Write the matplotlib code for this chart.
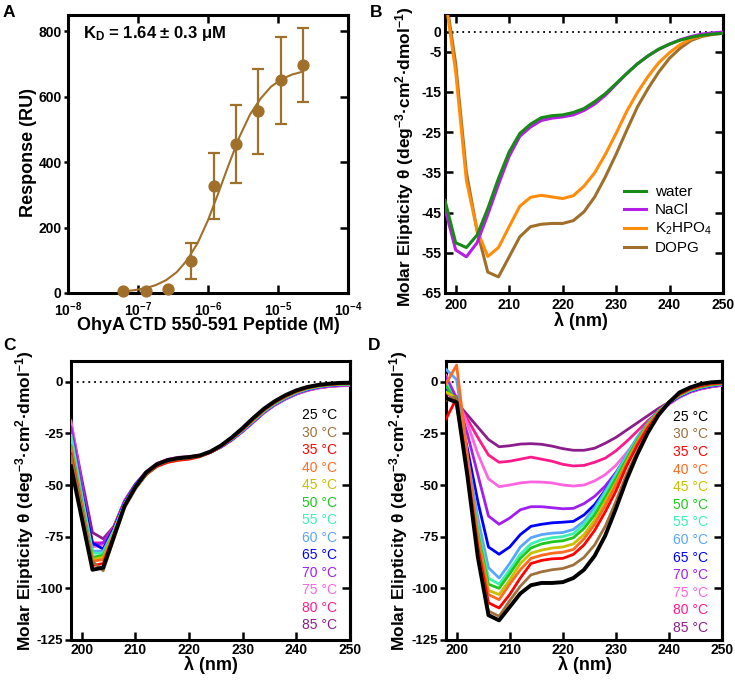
import matplotlib
matplotlib.use('Agg')
import matplotlib.pyplot as plt
import numpy as np
from matplotlib.ticker import NullLocator

plt.rcParams.update({
    'font.family': ['Liberation Sans', 'DejaVu Sans'],
    'font.weight': 'bold',
    'axes.labelweight': 'bold',
    'mathtext.default': 'regular',
    'axes.unicode_minus': False,
    'axes.linewidth': 2.2,
})

# ---------------- Panel A data ----------------
conc = [6.1e-8, 1.3e-7, 2.7e-7, 5.7e-7, 1.2e-6, 2.5e-6, 5.2e-6, 1.1e-5, 2.3e-5]
resp = [6, 6, 12, 98, 327, 455, 556, 650, 696]
resp_err = [0, 0, 0, 55, 102, 120, 130, 134, 113]
fit_conc = [6.3e-8, 8.9e-8, 1.26e-7, 1.78e-7, 2.51e-7, 3.55e-7, 5.0e-7, 7.1e-7,
            1.0e-6, 1.41e-6, 2.0e-6, 2.82e-6, 3.98e-6, 5.62e-6, 7.94e-6,
            1.12e-5, 1.58e-5, 2.24e-5]
fit_resp = [5.2, 8.6, 14.4, 23.8, 39.0, 63.1, 99.7, 152.4, 222.5, 306.5, 395.2,
            477.8, 545.6, 594.1, 630.8, 653.5, 667.8, 676.6]
a_xticks = [1e-8, 1e-7, 1e-6, 1e-5, 1e-4]
a_xticklabels = ['10$^{-8}$', '10$^{-7}$', '10$^{-6}$', '10$^{-5}$', '10$^{-4}$']
a_yticks = [0, 200, 400, 600, 800]

# ---------------- Panel B data ----------------
wl = [198, 200, 202, 204, 206, 208, 210, 212, 214, 216, 218, 220, 222, 224,
      226, 228, 230, 232, 234, 236, 238, 240, 242, 244, 246, 248, 250]
b_names = ['water', 'NaCl', 'K$_2$HPO$_4$', 'DOPG']
b_water = [-42, -52.5, -53.7, -50.6, -44, -36.5, -29.9, -25.3, -23, -21.4, -20.9,
           -20.7, -20.1, -19.1, -17.4, -15.4, -12.9, -10.4, -8, -6, -4.3, -3.1,
           -2.1, -1.4, -0.9, -0.6, -0.4]
b_nacl = [-44, -54.3, -56, -52.5, -45.5, -38, -31, -26, -23.7, -22.1, -21.5,
          -21.2, -20.7, -19.6, -18, -15.8, -13.1, -10.4, -8, -6, -4.4, -3.1,
          -2, -1.2, -0.6, -0.3, -0.1]
b_k2hpo4 = [9, -10, -37, -49.4, -55.9, -53.7, -48.5, -43.4, -41.2, -40.7, -41.1,
            -41.5, -40.8, -38.4, -35.1, -30.5, -25.3, -19.8, -15.1, -11.1, -7.7,
            -5.2, -3.2, -1.8, -1, -0.5, -0.3]
b_dopg = [10, -8, -35, -49.5, -59.8, -61, -56, -51, -48.5, -47.9, -47.7, -47.7,
          -47, -44.8, -41.1, -36.1, -30.5, -24.5, -18.7, -14.1, -10, -6.6, -4.1,
          -2.2, -1.2, -0.7, -0.4]
b_colors = ['#168c16', '#b41ee6', '#ff8c0a', '#a0702a']
b_yticks = [0, -5, -15, -25, -35, -45, -55, -65]

# ---------------- Panels C / D data ----------------
temps = ['25 °C', '30 °C', '35 °C', '40 °C', '45 °C', '50 °C', '55 °C',
         '60 °C', '65 °C', '70 °C', '75 °C', '80 °C', '85 °C']
t_colors = ['#000000', '#a0703c', '#ff0000', '#ff6a1e', '#c8c000', '#1ec81e',
            '#3cf0b4', '#5aa5ff', '#0000ff', '#a01ef0', '#ff64e1', '#ff1a8c',
            '#8c1e8c']
c_data = [
    [-41, -66, -91, -90, -75, -60, -51, -44, -40, -38, -37, -36.5, -35.7, -33.8, -30.8, -26.9, -22.4, -17.5, -13.0, -9.4, -6.5, -4.2, -2.6, -1.6, -1.0, -0.6, -0.5],
    [-36, -62, -87, -91.5, -76, -61, -52, -45, -40.5, -38.5, -37.5, -37, -36, -34, -31, -27.2, -22.8, -18, -13.4, -9.7, -6.8, -4.5, -2.9, -1.8, -1.2, -0.8, -0.7],
    [-35, -62, -89, -88, -74, -60, -51.5, -45, -41, -39, -38, -37.5, -36.3, -34.2, -31.2, -27.4, -23, -18.2, -13.6, -9.9, -7, -4.7, -3, -1.9, -1.3, -0.9, -0.8],
    [-32, -60, -87, -86, -74, -60, -51.5, -45, -41, -39, -38, -37.3, -36.2, -34.2, -31.2, -27.4, -23, -18.3, -13.7, -10, -7.1, -4.8, -3.1, -2, -1.4, -1, -0.9],
    [-33, -60, -86, -85, -73, -59.5, -51, -44.5, -40.5, -38.5, -37.5, -37, -36, -34, -31, -27.4, -23, -18.4, -13.8, -10.1, -7.2, -4.9, -3.2, -2.1, -1.5, -1.1, -1],
    [-31, -58, -85, -84, -73, -59.5, -51, -44.5, -40.5, -38.3, -37.3, -36.8, -36, -34, -31, -27.5, -23.2, -18.6, -14, -10.3, -7.4, -5, -3.3, -2.2, -1.6, -1.2, -1.1],
    [-26, -55, -83, -83, -72, -59, -50.5, -44.2, -40.2, -38.2, -37.2, -36.7, -36, -34, -31.2, -27.6, -23.4, -18.8, -14.2, -10.5, -7.6, -5.2, -3.5, -2.4, -1.7, -1.3, -1.2],
    [-28, -55, -82, -82, -72, -59, -50.5, -44.2, -40.2, -38.2, -37.2, -36.7, -36, -34.1, -31.3, -27.8, -23.6, -19, -14.4, -10.7, -7.8, -5.4, -3.7, -2.5, -1.8, -1.4, -1.3],
    [-30, -54, -78, -81, -71, -58.5, -50, -44, -40, -38, -37, -36.6, -36, -34.1, -31.4, -27.9, -23.7, -19.1, -14.5, -10.8, -7.9, -5.5, -3.8, -2.6, -1.9, -1.5, -1.4],
    [-22, -50, -79, -78, -71, -58, -50, -44, -40, -38, -37, -36.6, -36, -34.2, -31.5, -28, -23.8, -19.3, -14.7, -11, -8.1, -5.7, -4, -2.8, -2.1, -1.7, -1.6],
    [-19, -50, -80, -79, -71, -58, -50, -43.8, -39.8, -37.8, -36.8, -36.4, -35.8, -34.1, -31.5, -28, -23.9, -19.4, -14.8, -11.1, -8.2, -5.8, -4.1, -2.9, -2.2, -1.8, -1.7],
    [-25, -51, -78, -78, -70, -58, -50, -43.8, -39.8, -37.8, -36.8, -36.4, -35.8, -34.1, -31.5, -28.1, -24, -19.5, -14.9, -11.2, -8.3, -5.9, -4.2, -3, -2.3, -1.9, -1.8],
    [-20, -47, -73, -76, -70, -57.5, -49.5, -43.5, -39.6, -37.6, -36.6, -36.3, -35.7, -34.1, -31.6, -28.2, -24.1, -19.6, -15, -11.3, -8.4, -6, -4.3, -3.1, -2.4, -2, -1.9],
]
d_data = [
    [-8, -10, -45, -85, -113, -115.5, -109, -102.5, -98.5, -97.4, -97.4, -97, -95, -91, -84.3, -74.5, -61.5, -47.6, -35.4, -24.8, -16.3, -10.1, -5.2, -2.8, -1.1, -0.3, 0],
    [-9, -7, -44, -83, -111, -113.5, -106, -99, -93.5, -92, -91, -90.4, -88.7, -85, -79, -70, -58, -45, -34, -24, -16, -10, -5.5, -3, -1.5, -0.6, -0.3],
    [-18, -8, -43, -80, -107, -109.5, -103, -95, -88, -86.5, -85.7, -85.5, -83.6, -79, -72, -63, -53, -41, -31, -22.5, -15.5, -10, -6, -3.5, -2, -1, -0.6],
    [-1, 8, -35, -76, -103, -105.5, -98, -91, -85.5, -84, -83, -82.5, -81.2, -76, -69, -60, -50, -40, -30, -21.5, -15, -10, -6, -3.5, -2, -1, -0.6],
    [-5, -8, -40, -75, -101, -103, -96, -88, -83, -81.5, -80.5, -80, -78.5, -74, -67, -58, -49, -39, -29.5, -21, -15, -10, -6.3, -3.8, -2.2, -1.2, -0.7],
    [-2, -10, -40, -73, -98, -100, -93, -85.5, -80.5, -78.5, -77.5, -77, -75.5, -71, -64.5, -56, -47, -37.5, -28.5, -20.5, -14.5, -10, -6.5, -4, -2.5, -1.5, -0.9],
    [0, -12, -40, -71, -95, -98, -91, -83.5, -78.5, -76.5, -75.5, -75, -73.5, -69, -62.5, -54, -45.5, -36.5, -28, -20.5, -14.5, -10, -6.6, -4.2, -2.6, -1.6, -1],
    [6, 1, -36, -66, -90, -95, -88, -80, -75.5, -74, -73.3, -73, -71.5, -67.5, -61, -53, -44.5, -35.5, -27, -20, -14.3, -10, -6.8, -4.4, -2.8, -1.8, -1.2],
    [-3, -10, -32, -58, -80, -83.5, -80, -74, -70, -69, -68.3, -68, -67.6, -64.5, -59.5, -52.5, -44.5, -36, -27.5, -20, -14.5, -10.3, -7, -4.6, -3, -2, -1.3],
    [2, -8, -25, -45, -65, -69, -66, -62, -60.5, -60.5, -61, -61.5, -61.3, -59, -55.5, -50.5, -44, -36.5, -28.5, -21, -15, -10.5, -7.2, -4.8, -3.2, -2.2, -1.5],
    [3, -8, -20, -35, -47, -50.8, -50, -49, -48.5, -48.6, -49, -50, -50.5, -50, -48, -45, -40.5, -34.5, -28, -21.5, -15.5, -11, -7.5, -5, -3.4, -2.3, -1.6],
    [-5, -10, -18, -27, -35.5, -39, -38.5, -37.5, -36.5, -37.5, -38.5, -40, -40.8, -40.5, -39, -37, -33.5, -29, -24, -19, -14.5, -10.5, -7.5, -5, -3.5, -2.4, -1.7],
    [-2, -10, -16, -22, -28, -31.5, -31, -30.2, -30, -30.3, -31.2, -32.4, -33.2, -33.2, -32.2, -29.8, -27, -23.5, -20, -16.5, -13, -10, -7.3, -5, -3.5, -2.5, -1.8],
]
cd_yticks = [0, -25, -50, -75, -100, -125]
cd_xticks = [200, 210, 220, 230, 240, 250]

BROWN = '#a0702a'
TICKFS = 10
LABFS = 13
YLABFS = 12.5
YLAB = 'Molar Elipticity θ (deg$^{-3}$·cm$^{2}$·dmol$^{-1}$)'

fig = plt.figure(figsize=(7.35, 6.83), dpi=100)
W, H = 735.0, 683.0


def make_axes(l, r, t, b):
    return fig.add_axes([l / W, 1 - b / H, (r - l) / W, (b - t) / H])


def style(ax, yticks, ldir, llen, lpad, top, xpad, yfs=TICKFS):
    for s in ax.spines.values():
        s.set_linewidth(2.2)
    ax.set_yticks(yticks)
    ax.tick_params(axis='x', which='major', direction='in', length=5.5, width=1.8,
                   top=top, labelsize=TICKFS, pad=xpad)
    ax.tick_params(axis='y', which='major', direction=ldir, length=llen, width=1.8,
                   labelsize=yfs, pad=lpad)
    sec = ax.secondary_yaxis('right')
    sec.set_yticks(yticks)
    sec.tick_params(direction='in', length=5.5, width=1.8, labelright=False)
    sec.spines['right'].set_linewidth(2.2)


# ---------------- A ----------------
axA = make_axes(68, 348, 15, 293)
axA.set_xscale('log')
axA.set_xlim(1e-8, 1e-4)
axA.set_ylim(0, 850)
axA.plot(fit_conc, fit_resp, color=BROWN, lw=1.5, zorder=2)
sel = [i for i in range(len(conc)) if resp_err[i] > 0]
axA.errorbar([conc[i] for i in sel], [resp[i] for i in sel],
             yerr=[resp_err[i] for i in sel], fmt='none', ecolor=BROWN,
             elinewidth=1.6, capsize=4.5, capthick=1.6, zorder=3)
axA.plot(conc, resp, 'o', color=BROWN, ms=7.8, zorder=4, clip_on=False)
axA.set_xticks(a_xticks)
axA.set_xticklabels(a_xticklabels)
axA.xaxis.set_minor_locator(NullLocator())
style(axA, a_yticks, 'out', 3, 1.5, True, 5.5)
axA.set_xlabel('OhyA CTD 550-591 Peptide (M)', fontsize=LABFS)
axA.set_ylabel('Response (RU)', fontsize=LABFS)
axA.xaxis.set_label_coords(0.5, -0.088)
axA.yaxis.set_label_coords(-0.112, 0.507)
axA.text(0.054, 0.935, 'K$_D$ = 1.64 ± 0.3 μM', transform=axA.transAxes,
         fontsize=12, fontweight='bold', va='center', ha='left')

# ---------------- B ----------------
axB = make_axes(445, 723, 15, 293)
axB.set_xlim(198, 250)
axB.set_ylim(-65, 4.15)
axB.axhline(0, color='k', lw=1.3, ls=(0, (1, 2.2)), zorder=1)
b_series = [b_water, b_nacl, b_k2hpo4, b_dopg]
handles = []
for k in [3, 2, 1, 0]:
    h, = axB.plot(wl, b_series[k], color=b_colors[k], lw=2.2, label=b_names[k],
                  zorder=2 + (3 - k))
    handles.append(h)
handles = handles[::-1]
axB.set_xticks(cd_xticks)
style(axB, b_yticks, 'in', 5.5, 2.5, True, 3.5)
axB.set_xlabel('λ (nm)', fontsize=LABFS)
axB.set_ylabel(YLAB, fontsize=YLABFS)
axB.xaxis.set_label_coords(0.49, -0.07)
axB.yaxis.set_label_coords(-0.105, 0.49)
axB.legend(handles=handles, labels=b_names, loc='upper left',
           bbox_to_anchor=(0.615, 0.415), frameon=False, borderpad=0,
           prop={'weight': 'normal', 'size': 11}, handlelength=1.45,
           handletextpad=0.6, labelspacing=0.25)


# ---------------- C & D ----------------
def cd_panel(ax, data, txt_x, txt_y0, txt_dy):
    ax.set_xlim(198, 250)
    ax.set_ylim(-125, 10)
    ax.axhline(0, color='k', lw=1.3, ls=(0, (1, 2.2)), zorder=1)
    for k in range(len(temps) - 1, -1, -1):
        ax.plot(wl, data[k], color=t_colors[k], lw=2.8 if k == 0 else 2.0,
                zorder=2 + (len(temps) - k))
    for k, (lab, c) in enumerate(zip(temps, t_colors)):
        ax.text(txt_x, txt_y0 - k * txt_dy, lab, color=c, transform=ax.transAxes,
                ha='right', va='center', fontsize=10, fontweight='normal')
    ax.set_xticks(cd_xticks)
    style(ax, cd_yticks, 'out', 4.5, 1, False, 2.5, yfs=9.5)
    ax.set_xlabel('λ (nm)', fontsize=LABFS)
    ax.set_ylabel(YLAB, fontsize=YLABFS)


axC = make_axes(71, 350, 361, 640)
cd_panel(axC, c_data, 0.953, 0.806, 0.0627)
axC.xaxis.set_label_coords(0.50, -0.058)
axC.yaxis.set_label_coords(-0.125, 0.50)

axD = make_axes(446, 722, 361, 640)
cd_panel(axD, d_data, 0.949, 0.80, 0.0631)
axD.xaxis.set_label_coords(0.504, -0.058)
axD.yaxis.set_label_coords(-0.13, 0.50)

# panel letters
for letter, x, y in [('A', 3, 17), ('B', 370, 17), ('C', 3, 350), ('D', 368, 350)]:
    fig.text(x / W, 1 - y / H, letter, fontsize=12.5, fontweight='bold',
             ha='left', va='baseline')

fig.savefig('out.png', dpi=100)
